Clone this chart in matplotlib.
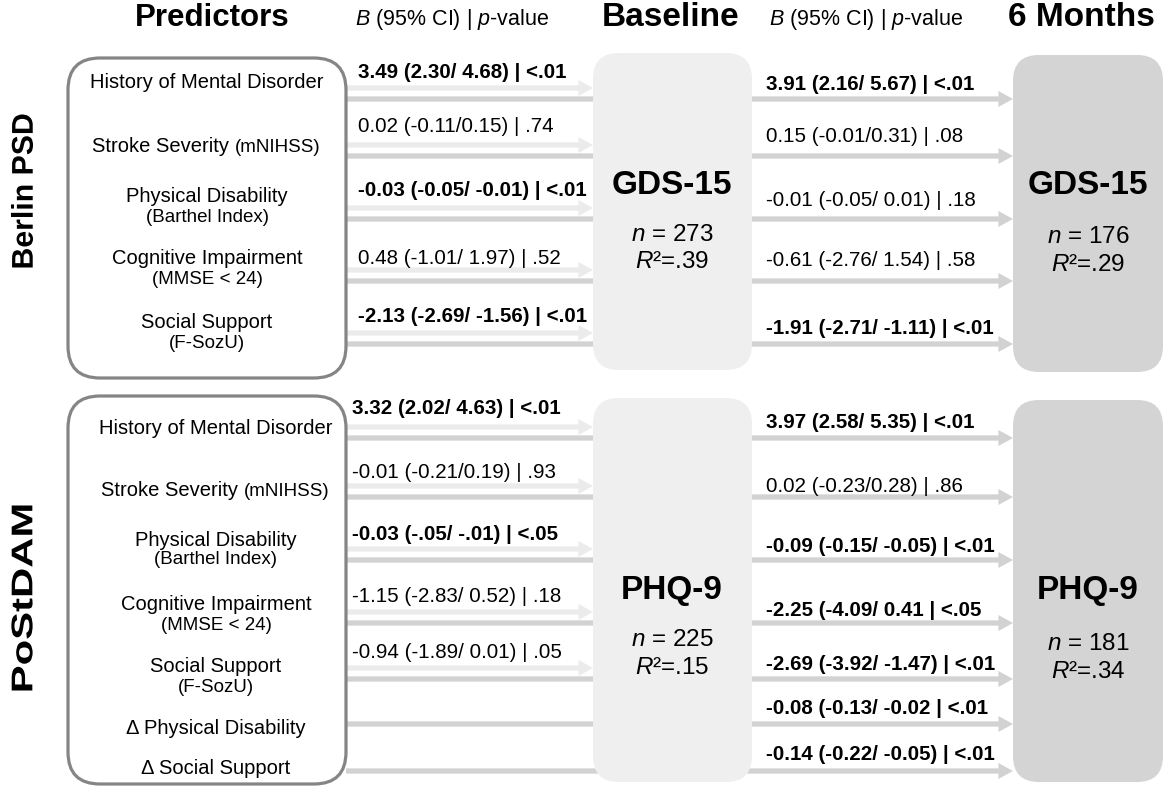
"""Path diagram: predictors of post-stroke depression at baseline and 6 months."""

import matplotlib

matplotlib.use("Agg")
import matplotlib.pyplot as plt
from matplotlib.font_manager import FontProperties
from matplotlib.patches import FancyArrowPatch, FancyBboxPatch, PathPatch
from matplotlib.textpath import TextPath
from matplotlib.transforms import Affine2D

plt.rcParams["font.family"] = ["Liberation Sans", "DejaVu Sans"]
plt.rcParams["mathtext.fontset"] = "custom"
plt.rcParams["mathtext.it"] = "Liberation Sans:italic"
plt.rcParams["mathtext.rm"] = "Liberation Sans"

# Berlin PSD cohort
berlin_labels = ["History of Mental Disorder", "Stroke Severity", "Physical Disability",
                 "Cognitive Impairment", "Social Support"]
berlin_sublabels = ["", "(mNIHSS)", "(Barthel Index)", "(MMSE < 24)", "(F-SozU)"]
berlin_base_b = ["3.49 (2.30/ 4.68) | <.01", "0.02 (-0.11/0.15) | .74",
                 "-0.03 (-0.05/ -0.01) | <.01", "0.48 (-1.01/ 1.97) | .52",
                 "-2.13 (-2.69/ -1.56) | <.01"]
berlin_base_sig = [True, False, True, False, True]
berlin_6m_b = ["3.91 (2.16/ 5.67) | <.01", "0.15 (-0.01/0.31) | .08",
               "-0.01 (-0.05/ 0.01) | .18", "-0.61 (-2.76/ 1.54) | .58",
               "-1.91 (-2.71/ -1.11) | <.01"]
berlin_6m_sig = [True, False, False, False, True]
berlin_outcome = "GDS-15"
berlin_n = [273, 176]
berlin_r2 = [".39", ".29"]

# PoStDAM cohort
postdam_labels = ["History of Mental Disorder", "Stroke Severity", "Physical Disability",
                  "Cognitive Impairment", "Social Support", "Δ Physical Disability",
                  "Δ Social Support"]
postdam_sublabels = ["", "(mNIHSS)", "(Barthel Index)", "(MMSE < 24)", "(F-SozU)", "", ""]
postdam_base_b = ["3.32 (2.02/ 4.63) | <.01", "-0.01 (-0.21/0.19) | .93",
                  "-0.03 (-.05/ -.01) | <.05", "-1.15 (-2.83/ 0.52) | .18",
                  "-0.94 (-1.89/ 0.01) | .05", None, None]
postdam_base_sig = [True, False, True, False, False, False, False]
postdam_6m_b = ["3.97 (2.58/ 5.35) | <.01", "0.02 (-0.23/0.28) | .86",
                "-0.09 (-0.15/ -0.05) | <.01", "-2.25 (-4.09/ 0.41 | <.05",
                "-2.69 (-3.92/ -1.47) | <.01", "-0.08 (-0.13/ -0.02 | <.01",
                "-0.14 (-0.22/ -0.05) | <.01"]
postdam_6m_sig = [True, False, True, True, True, True, True]
postdam_outcome = "PHQ-9"
postdam_n = [225, 181]
postdam_r2 = [".15", ".34"]

# Layout (pixel coordinates, y grows downward)
PRED_X0, PRED_X1 = 68, 346
BASE_X0, BASE_X1 = 593, 752
SIX_X0, SIX_X1 = 1013, 1163
LIGHT = "#ebebeb"
DARK = "#d2d2d2"

sections = [
    dict(name="Berlin PSD", name_y=191, name_len=153, box=(58, 378), base_box=(53, 370),
         six_box=(55, 372),
         labels=berlin_labels, subs=berlin_sublabels, base_b=berlin_base_b,
         base_sig=berlin_base_sig, six_b=berlin_6m_b, six_sig=berlin_6m_sig,
         outcome=berlin_outcome, n=berlin_n, r2=berlin_r2, label_x=207,
         label_y=[83, 147, 197, 259, 323], line_y=[99, 156, 219, 281, 344],
         left_y=[72, 127, 190, 258, 316], left_x=358,
         right_y=[84, 136, 201, 261, 329],
         title_y=[185, 235, 262], six_title_y=[185, 237, 265]),
    dict(name="PoStDAM", name_y=598, name_len=185, box=(396, 784), base_box=(398, 782),
         six_box=(400, 782),
         labels=postdam_labels, subs=postdam_sublabels, base_b=postdam_base_b,
         base_sig=postdam_base_sig, six_b=postdam_6m_b, six_sig=postdam_6m_sig,
         outcome=postdam_outcome, n=postdam_n, r2=postdam_r2, label_x=216,
         label_y=[429, 490, 540, 605, 667, 728, 768],
         line_y=[438, 497, 560, 623, 679, 724, 771],
         left_y=[408, 472, 535, 597, 653], left_x=352,
         right_y=[423, 487, 546, 610, 664, 708, 754],
         title_y=[590, 640, 668], six_title_y=[590, 644, 672]),
]


def arrow(ax, x0, x1, y, color, z):
    ax.add_patch(FancyArrowPatch(
        (x0, y), (x1, y), arrowstyle="simple,tail_width=0.38,head_width=1.15,head_length=1.05",
        mutation_scale=10, color=color, shrinkA=0, shrinkB=0, lw=0, zorder=z))


def vertical_label(ax, x, y, text, length, em=30):
    """Bold label reading bottom-to-top, stretched along its baseline to a given length."""
    tp = TextPath((0, 0), text, size=em, prop=FontProperties(family="Liberation Sans",
                                                              weight="bold"))
    ext = tp.get_extents()
    s = length / ext.width
    uc = (ext.x0 + ext.x1) / 2
    vc = (ext.y0 + ext.y1) / 2
    # (u, v) in text space -> x = x - (v - vc), y = y - (u - uc) * s
    tr = Affine2D.from_values(0, -s, -1, 0, x + vc, y + uc * s)
    ax.add_patch(PathPatch(tr.transform_path(tp), fc="black", ec="none", zorder=5))


fig = plt.figure(figsize=(11.69, 7.95), dpi=100)
ax = fig.add_axes([0, 0, 1, 1])
ax.set_xlim(0, 1169)
ax.set_ylim(795, 0)
ax.axis("off")

# Column headers
ax.text(212, 18, "Predictors", fontsize=22.5, fontweight="bold", ha="center", va="center")
ax.text(671, 18, "Baseline", fontsize=24, fontweight="bold", ha="center", va="center")
ax.text(1081, 18, "6 Months", fontsize=24, fontweight="bold", ha="center", va="center")
for hx in (452, 866):
    ax.text(hx, 20, "$B$ (95% CI) | $p$-value", fontsize=15.5, ha="center", va="center")

for sec in sections:
    vertical_label(ax, 22, sec["name_y"], sec["name"], sec["name_len"])

    # Boxes
    top, bottom = sec["box"]
    ax.add_patch(FancyBboxPatch((PRED_X0, top), PRED_X1 - PRED_X0, bottom - top,
                                boxstyle="round,pad=0,rounding_size=32",
                                fc="white", ec="#858585", lw=2.3, zorder=4))
    top, bottom = sec["base_box"]
    ax.add_patch(FancyBboxPatch((BASE_X0, top), BASE_X1 - BASE_X0, bottom - top,
                                boxstyle="round,pad=0,rounding_size=26",
                                fc="#efefef", ec="none", zorder=3))
    top, bottom = sec["six_box"]
    ax.add_patch(FancyBboxPatch((SIX_X0, top), SIX_X1 - SIX_X0, bottom - top,
                                boxstyle="round,pad=0,rounding_size=26",
                                fc="#d4d4d4", ec="none", zorder=3))

    # Outcome box contents
    for cx, ty, i in ((672, sec["title_y"], 0), (1088, sec["six_title_y"], 1)):
        ax.text(cx, ty[0], sec["outcome"], fontsize=24, fontweight="bold",
                ha="center", va="center", zorder=5)
        ax.text(cx, ty[1], f"$n$ = {sec['n'][i]}", fontsize=17.5,
                ha="center", va="center", zorder=5)
        ax.text(cx, ty[2], f"$R$²={sec['r2'][i]}", fontsize=17.5,
                ha="center", va="center", zorder=5)

    # Predictor labels
    for lab, sub, ly in zip(sec["labels"], sec["subs"], sec["label_y"]):
        if sub and lab == "Stroke Severity":
            t = ax.text(sec["label_x"] + 28, ly, lab + " ", fontsize=14.5,
                        ha="right", va="center", zorder=5)
            ax.annotate(sub, xy=(1, 0), xycoords=t, fontsize=13.5,
                        ha="left", va="bottom", zorder=5)
        else:
            ax.text(sec["label_x"], ly, lab, fontsize=14.5, ha="center", va="center", zorder=5)
            if sub:
                ax.text(sec["label_x"], ly + 20, sub, fontsize=13.5,
                        ha="center", va="center", zorder=5)

    # Paths: light arrows to baseline, dark arrows to 6 months
    for k, ly in enumerate(sec["line_y"]):
        arrow(ax, PRED_X1, SIX_X0, ly, DARK, 1)
        if sec["base_b"][k] is not None:
            arrow(ax, PRED_X1, BASE_X0, ly - 11, LIGHT, 2)
            ax.text(sec["left_x"], sec["left_y"][k], sec["base_b"][k], fontsize=14.8,
                    fontweight="bold" if sec["base_sig"][k] else "normal",
                    ha="left", va="center", zorder=5)
        ax.text(766, sec["right_y"][k], sec["six_b"][k], fontsize=14.8,
                fontweight="bold" if sec["six_sig"][k] else "normal",
                ha="left", va="center", zorder=5)

fig.savefig("out.png", dpi=100)
plt.close(fig)
